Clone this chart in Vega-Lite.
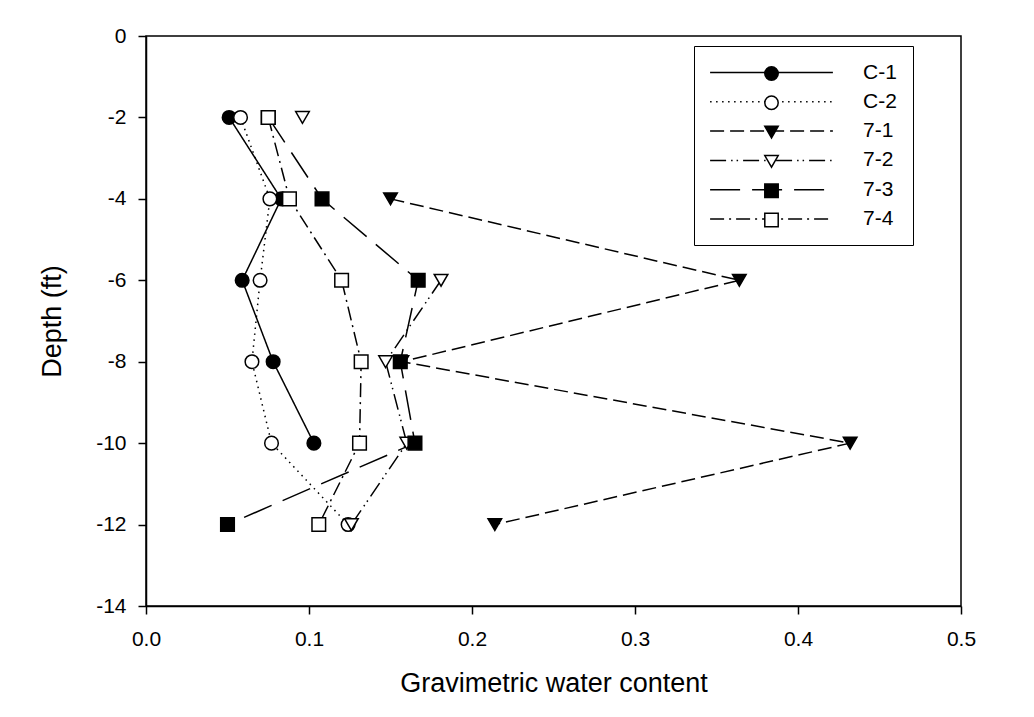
{
  "$schema": "https://vega.github.io/schema/vega-lite/v6.json",
  "width": 815,
  "height": 570,
  "autosize": "none",
  "padding": {"left": 146, "top": 36, "right": 73, "bottom": 111},
  "background": "white",
  "config": {
    "font": "Liberation Sans",
    "view": {"stroke": "black", "strokeWidth": 1.5},
    "axis": {
      "domainColor": "black", "domainWidth": 1.5,
      "tickColor": "black", "tickWidth": 1.5, "tickSize": 8,
      "labelColor": "black", "labelFontSize": 21, "labelFont": "Liberation Sans",
      "titleColor": "black", "titleFontSize": 27, "titleFontWeight": "normal", "titleFont": "Liberation Sans",
      "grid": false, "labelFlush": false, "labelOverlap": false
    },
    "legend": {"labelFont": "Liberation Sans", "labelFontSize": 21, "labelColor": "black"}
  },
  "data": {
    "values": [
      {"site": "C-1", "depth": -2, "water": 0.051},
      {"site": "C-1", "depth": -4, "water": 0.083},
      {"site": "C-1", "depth": -6, "water": 0.059},
      {"site": "C-1", "depth": -8, "water": 0.078},
      {"site": "C-1", "depth": -10, "water": 0.103},
      {"site": "C-2", "depth": -2, "water": 0.058},
      {"site": "C-2", "depth": -4, "water": 0.076},
      {"site": "C-2", "depth": -6, "water": 0.070},
      {"site": "C-2", "depth": -8, "water": 0.065},
      {"site": "C-2", "depth": -10, "water": 0.077},
      {"site": "C-2", "depth": -12, "water": 0.124},
      {"site": "7-1", "depth": -4, "water": 0.150},
      {"site": "7-1", "depth": -6, "water": 0.364},
      {"site": "7-1", "depth": -8, "water": 0.157},
      {"site": "7-1", "depth": -10, "water": 0.432},
      {"site": "7-1", "depth": -12, "water": 0.214},
      {"site": "7-2", "depth": -2, "water": 0.096},
      {"site": "7-2", "depth": -4, "water": null},
      {"site": "7-2", "depth": -6, "water": 0.181},
      {"site": "7-2", "depth": -8, "water": 0.147},
      {"site": "7-2", "depth": -10, "water": 0.160},
      {"site": "7-2", "depth": -12, "water": 0.126},
      {"site": "7-3", "depth": -2, "water": 0.075},
      {"site": "7-3", "depth": -4, "water": 0.108},
      {"site": "7-3", "depth": -6, "water": 0.167},
      {"site": "7-3", "depth": -8, "water": 0.156},
      {"site": "7-3", "depth": -10, "water": 0.165},
      {"site": "7-3", "depth": -12, "water": 0.050},
      {"site": "7-4", "depth": -2, "water": 0.075},
      {"site": "7-4", "depth": -4, "water": 0.088},
      {"site": "7-4", "depth": -6, "water": 0.120},
      {"site": "7-4", "depth": -8, "water": 0.132},
      {"site": "7-4", "depth": -10, "water": 0.131},
      {"site": "7-4", "depth": -12, "water": 0.106}
    ]
  },
  "encoding": {
    "x": {
      "field": "water", "type": "quantitative",
      "scale": {"domain": [0, 0.5], "nice": false, "zero": false},
      "axis": {
        "values": [0, 0.1, 0.2, 0.3, 0.4, 0.5],
        "labelExpr": "format(datum.value, '.1f')",
        "labelPadding": 14,
        "title": "Gravimetric water content",
        "titlePadding": 21
      }
    },
    "y": {
      "field": "depth", "type": "quantitative",
      "scale": {"domain": [-14, 0], "nice": false, "zero": false},
      "axis": {
        "values": [0, -2, -4, -6, -8, -10, -12, -14],
        "labelExpr": "'' + datum.value",
        "labelPadding": 12,
        "title": "Depth (ft)",
        "titlePadding": 29
      }
    }
  },
  "layer": [
    {
      "mark": {"type": "line", "color": "black", "strokeWidth": 1.5, "invalid": "break-paths-filter-domains"},
      "encoding": {
        "order": {"field": "depth", "sort": "descending"},
        "strokeDash": {
          "field": "site", "type": "nominal",
          "sort": ["C-1", "C-2", "7-1", "7-2", "7-3", "7-4"],
          "scale": {
            "range": [[1, 0], [1.5, 4.5], [14, 6], [16, 5, 1.5, 4, 1.5, 5], [30, 12], [14, 5, 2, 5]]
          },
          "legend": {
            "title": null, "orient": "none", "legendX": 548, "legendY": 10,
            "padding": 16, "strokeColor": "black",
            "symbolType": "M-6.3,0H6.3", "symbolSize": 380,
            "symbolStrokeColor": "black", "symbolStrokeWidth": 1.5,
            "symbolOffset": 51, "labelOffset": 81, "rowPadding": 7.3
          }
        }
      }
    },
    {
      "mark": {"type": "point", "filled": true, "strokeWidth": 1.5, "opacity": 1, "size": 185},
      "encoding": {
        "shape": {
          "field": "site", "type": "nominal",
          "scale": {
            "domain": ["C-1", "C-2", "7-1", "7-2", "7-3", "7-4"],
            "range": ["circle", "circle", "triangle-down", "triangle-down", "square", "square"]
          },
          "legend": {
            "title": null, "orient": "none", "legendX": 615, "legendY": 27,
            "padding": 0, "labelOpacity": 0, "symbolSize": 180,
            "symbolStrokeWidth": 1.5, "rowPadding": 7.3
          }
        },
        "fill": {
          "field": "site", "type": "nominal",
          "scale": {
            "domain": ["C-1", "C-2", "7-1", "7-2", "7-3", "7-4"],
            "range": ["black", "white", "black", "white", "black", "white"]
          },
          "legend": {
            "title": null, "orient": "none", "legendX": 615, "legendY": 27,
            "padding": 0, "labelOpacity": 0, "symbolSize": 180,
            "symbolStrokeWidth": 1.5, "rowPadding": 7.3
          }
        },
        "stroke": {
          "field": "site", "type": "nominal",
          "scale": {
            "domain": ["C-1", "C-2", "7-1", "7-2", "7-3", "7-4"],
            "range": ["black", "black", "black", "black", "black", "black"]
          },
          "legend": {
            "title": null, "orient": "none", "legendX": 615, "legendY": 27,
            "padding": 0, "labelOpacity": 0, "symbolSize": 180,
            "symbolStrokeWidth": 1.5, "rowPadding": 7.3
          }
        }
      }
    }
  ]
}
